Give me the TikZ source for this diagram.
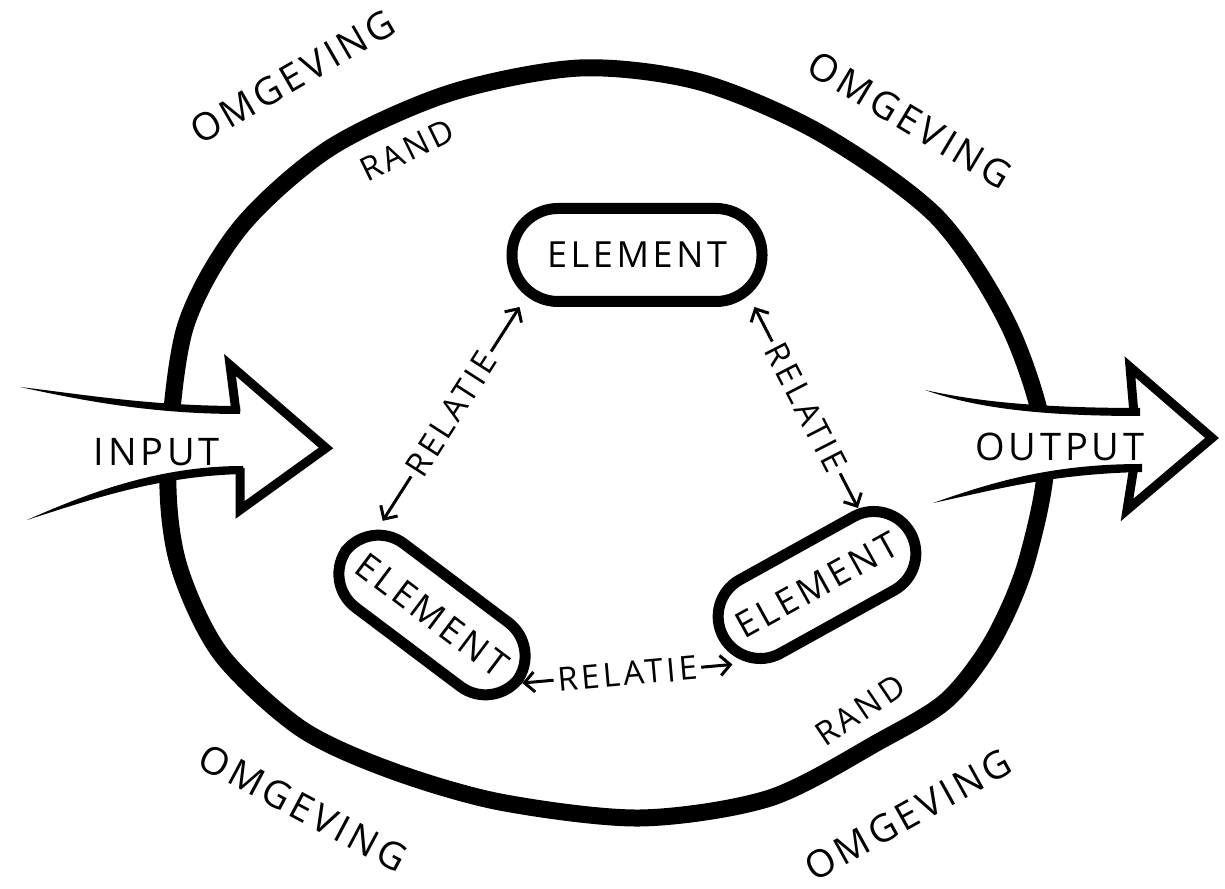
\documentclass[tikz,border=0pt]{standalone}
\usepackage{fontspec}
\usetikzlibrary{arrows.meta, calc}
\newfontfamily\hand[LetterSpace=10]{Open Sans}
\tikzset{
  >={Straight Barb[length=10pt, width=20pt]},
  randline/.style={line width=17pt, line cap=round, line join=round},
  headline/.style={line width=9pt, line join=miter, miter limit=4},
  tailfill/.style={fill=black},
  elbox/.style={draw, line width=11pt, rounded corners=42pt, fill=white, inner sep=0pt,
    font=\hand\fontsize{36}{38}\selectfont},
  relline/.style={<->, line width=3pt},
  rellabel/.style={fill=white, inner sep=4pt, font=\hand\fontsize{33}{35}\selectfont},
  word/.style={inner sep=0pt, font=\hand\fontsize{38}{40}\selectfont},
  smallword/.style={inner sep=0pt, font=\hand\fontsize{33}{35}\selectfont}
}

\begin{document}
\begin{tikzpicture}[x=1pt,y=1pt]
\useasboundingbox (0,0) rectangle (1225,888);

% de rand van het systeem
\draw[randline] plot[smooth cycle] coordinates {
  (168,420) (185,560) (240,660) (330,740) (450,795) (580,820) (700,806)
  (820,755) (937,671) (1010,560) (1046,440) (1027,328) (993,248) (947,188)
  (880,147) (770,90) (640,70) (500,86) (390,118) (300,160)
  (220,235) (178,325)};

% input
\fill[white] (20,501) .. controls (80,494) and (150,478) .. (238,478) -- (230,523)
  -- (330,440) -- (240,378) -- (240,418) .. controls (160,418) and (90,396) .. (27,368) -- cycle;
\fill[tailfill] (20,501) .. controls (80,494) and (150,482) .. (240,482) -- (240,474)
  .. controls (150,474) and (80,488) .. (20,501) -- cycle;
\fill[tailfill] (27,368) .. controls (90,396) and (160,422) .. (243,422) -- (243,414)
  .. controls (160,412) and (95,390) .. (27,368) -- cycle;
\draw[headline] (236,476) -- (230,523) -- (326,440) -- (240,378) -- (240,420);
\node[word] (inTxt) at (157,436) {INPUT};

% output
\fill[white] (925,498) .. controls (970,488) and (1030,476) .. (1137,476) -- (1130,521)
  -- (1214,450) -- (1127,378) -- (1137,420) .. controls (1050,420) and (990,402) .. (933,385) -- cycle;
\fill[tailfill] (925,498) .. controls (970,488) and (1030,480) .. (1140,480) -- (1140,472)
  .. controls (1030,472) and (970,482) .. (925,498) -- cycle;
\fill[tailfill] (933,385) .. controls (990,405) and (1050,424) .. (1142,424) -- (1142,416)
  .. controls (1050,414) and (995,398) .. (933,385) -- cycle;
\draw[headline] (1134,474) -- (1130,521) -- (1212,450) -- (1127,378) -- (1134,422);
\node[word] (outTxt) at (1060,441) {OUTPUT};

% elementen
\node[elbox, minimum width=250pt, minimum height=93pt, rounded corners=46pt] (elTop) at (637,633) {ELEMENT};
\node[elbox, minimum width=215pt, minimum height=80pt, rotate=-37] (elLeft) at (432,273) {ELEMENT};
\node[elbox, minimum width=214pt, minimum height=84pt, rotate=29] (elRight) at (817,303) {ELEMENT};

% relaties
\draw[relline] ($(elLeft.north)!0.85!(elLeft.north west)$)
  -- node[rellabel, sloped] {RELATIE} ($(elTop.south)!0.9!(elTop.south west)$);
\draw[relline] ($(elTop.south)!0.9!(elTop.south east)$)
  -- node[rellabel, sloped] {RELATIE} ($(elRight.north)!0.65!(elRight.north east)$);
\draw[relline] (elLeft.east)
  -- node[rellabel, sloped] {RELATIE} ($(elRight.west)!0.6!(elRight.south west)$);

% omgeving en rand
\node[word, rotate=30] (omgTL) at (293,811) {OMGEVING};
\node[word, rotate=-31] (omgTR) at (910,768) {OMGEVING};
\node[word, rotate=-28] (omgBL) at (303,80) {OMGEVING};
\node[word, rotate=29] (omgBR) at (908,73) {OMGEVING};
\node[smallword, rotate=26] (randTop) at (407,738) {RAND};
\node[smallword, rotate=34] (randBot) at (860,178) {RAND};

\end{tikzpicture}
\end{document}
